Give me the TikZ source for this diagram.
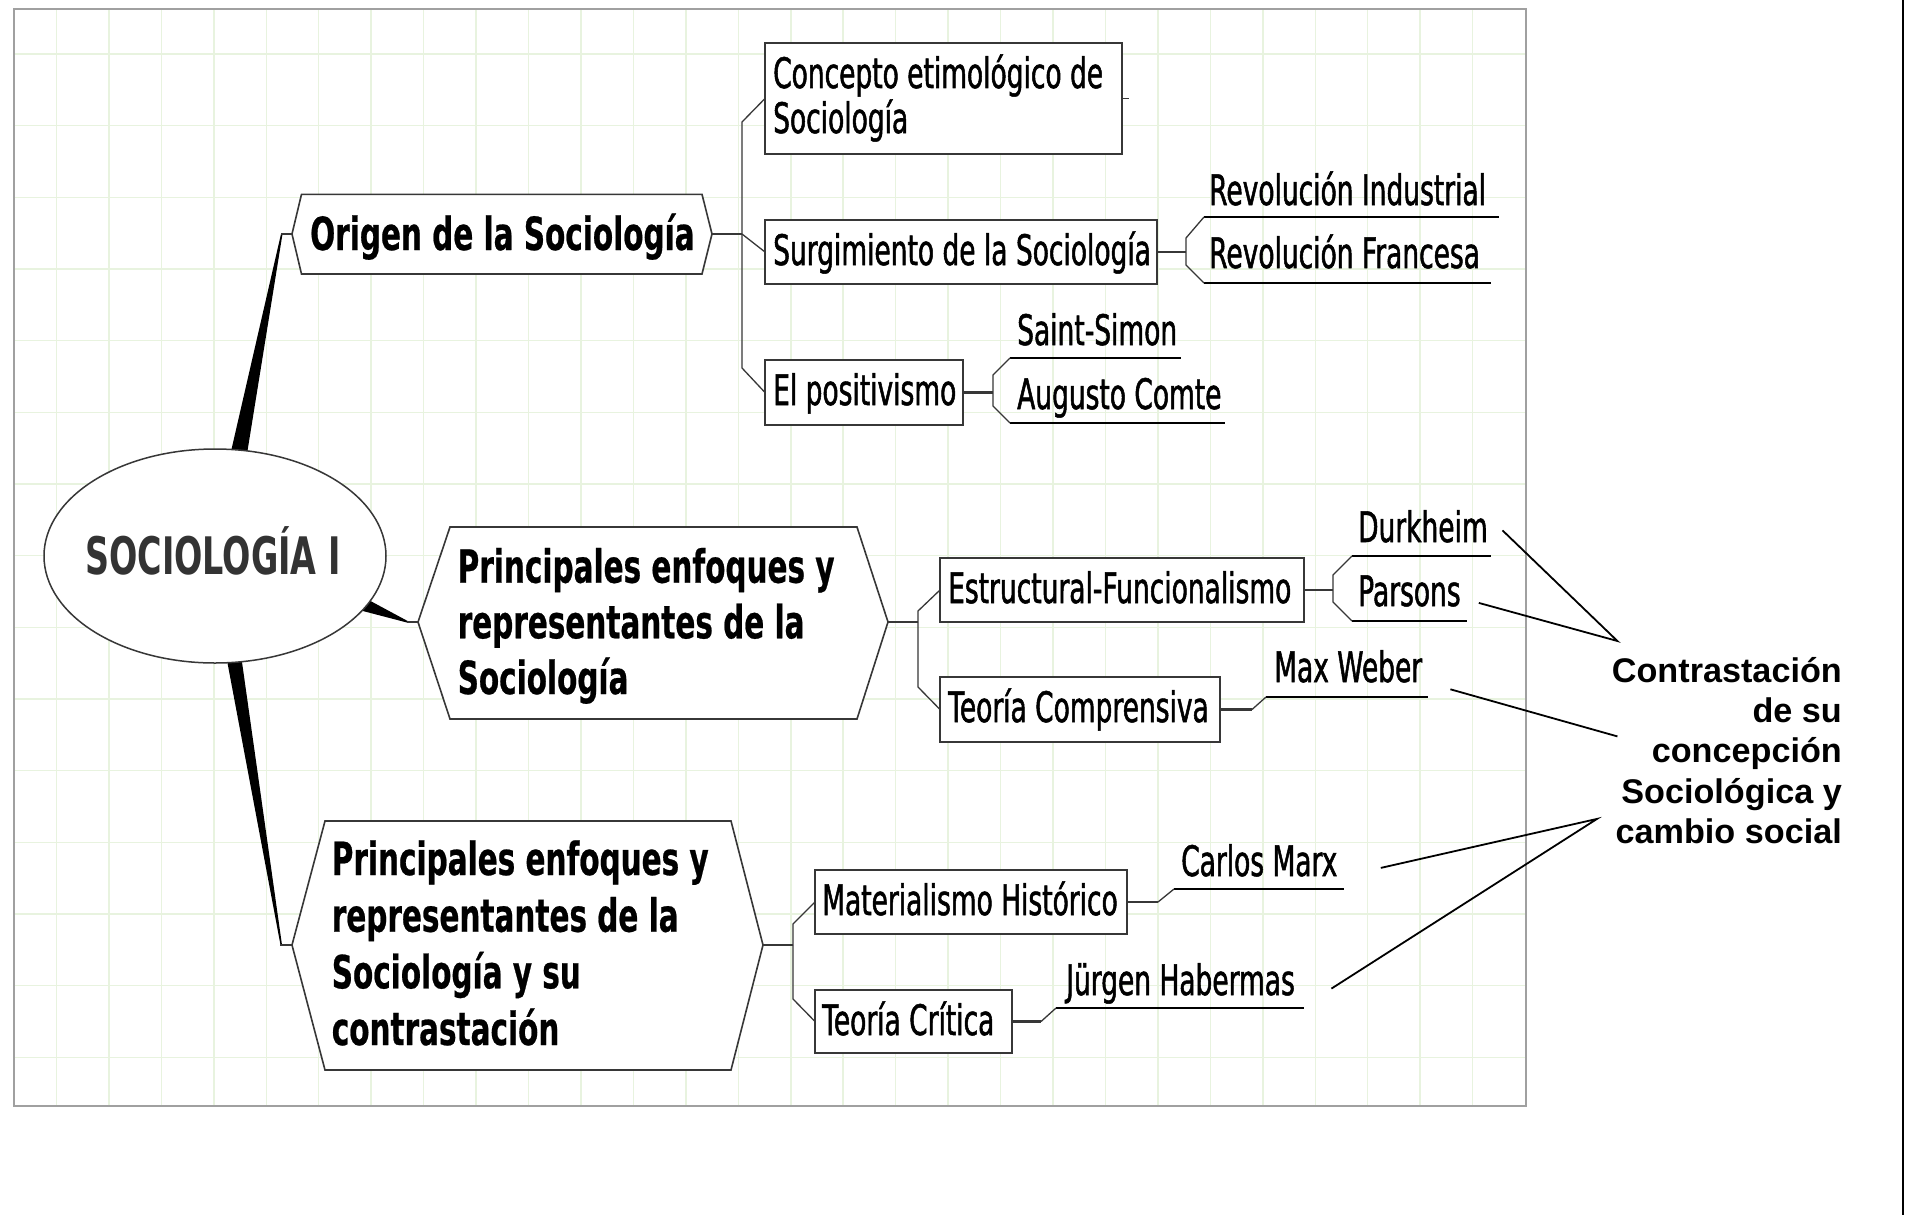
\documentclass[tikz,border=0pt]{standalone}
\usepackage{fontspec}
\usetikzlibrary{shapes.geometric}
\newfontfamily\mmreg[FakeStretch=0.63,FakeBold=1.2]{DejaVu Sans}
\newfontfamily\mmbold[FakeStretch=0.645,FakeBold=0.5]{DejaVu Sans Bold}
\newfontfamily\rootfont[FakeStretch=0.645]{DejaVu Sans Bold}
\newfontfamily\ctfont{Liberation Sans Bold}
\definecolor{gridc}{RGB}{232,243,223}
\definecolor{framec}{RGB}{160,160,160}
\definecolor{linec}{RGB}{55,55,55}
\definecolor{roottxt}{RGB}{51,51,51}
\tikzset{
  gridline/.style={draw=gridc, line width=1.5pt},
  box/.style={draw=linec, line width=1.8pt, fill=white, rectangle, inner sep=0pt, outer sep=0pt},
  regtxt/.style={anchor=base west, inner sep=0pt, font=\mmreg\fontsize{42}{45}\selectfont},
  boldtxt/.style={anchor=base west, inner sep=0pt, font=\mmbold\fontsize{45.7}{57}\selectfont},
  notetxt/.style={anchor=base east, inner sep=0pt, font=\ctfont\fontsize{34.2}{40}\selectfont},
  branch/.style={draw=linec, line width=1.3pt},
  stem/.style={draw=linec, line width=2.6pt},
  uline/.style={draw=black, line width=1.8pt},
  hexline/.style={draw=linec, line width=1.6pt, fill=white, line join=miter},
  wedge/.style={fill=black},
  note/.style={draw=black, line width=1.8pt},
}
\begin{document}
\begin{tikzpicture}[x=1pt,y=-1pt]
\useasboundingbox (0,0) rectangle (1910,1215);
\fill[white] (0,0) rectangle (1910,1215);
% grid
\foreach \k in {1,...,28} { \draw[gridline] ({4+52.45*\k},9) -- ({4+52.45*\k},1106); }
\foreach \k in {0,...,14} { \draw[gridline] (14,{54+71.67*\k}) -- (1526,{54+71.67*\k}); }
\draw[draw=framec, line width=1.6pt] (14,9) rectangle (1526,1106);
% right edge line
\draw[line width=2.4pt] (1903,0) -- (1903,1215);

% hexagon tips
\coordinate (h1W) at (292,234);  \coordinate (h1E) at (712,234);
\coordinate (h2W) at (418,622);  \coordinate (h2E) at (888,622);
\coordinate (h3W) at (292,945);  \coordinate (h3E) at (763,945);

% wedges from root
\fill[wedge] (229.5,458) -- (246.5,457) -- (282.5,234) -- (281,234) -- cycle;
\fill[wedge] (364,597.5) -- (359,610) -- (408,622.8) -- (408,621.2) -- cycle;
\fill[wedge] (226,655) -- (241,655) -- (282,945) -- (280.5,945) -- cycle;
\draw[branch] (281,234) -- (h1W);
\draw[branch] (407,622) -- (h2W);
\draw[branch] (280,945) -- (h3W);

% root
\node[draw=linec, line width=1.5pt, fill=white, ellipse, minimum width=342pt, minimum height=214pt, inner sep=0pt] (root) at (215,556) {};
\node[anchor=base west, inner sep=0pt, text=roottxt, font=\rootfont\fontsize{51.7}{60}\selectfont] (rootT) at (85,574) {SOCIOLOGÍA I};

% hexagons
\draw[hexline] (h1W) -- (301.5,194.3) -- (702,194.3) -- (h1E) -- (702,274) -- (301.5,274) -- cycle;
\draw[hexline] (h2W) -- (450,527) -- (857,527) -- (h2E) -- (857,719) -- (450,719) -- cycle;
\draw[hexline] (h3W) -- (325,821) -- (731,821) -- (h3E) -- (731,1070) -- (325,1070) -- cycle;
\node[boldtxt] (h1T) at (310,250) {Origen de la Sociología};
\node[boldtxt] (h2Ta) at (457.5,582.7) {Principales enfoques y};
\node[boldtxt] (h2Tb) at (457.5,638.3) {representantes de la};
\node[boldtxt] (h2Tc) at (457.5,694) {Sociología};
\node[boldtxt] (h3Ta) at (331.6,875) {Principales enfoques y};
\node[boldtxt] (h3Tb) at (331.6,931.7) {representantes de la};
\node[boldtxt] (h3Tc) at (331.6,988.3) {Sociología y su};
\node[boldtxt] (h3Td) at (331.6,1045) {contrastación};

% boxes
\node[box, minimum width=357pt, minimum height=111pt] (bConc) at (943.5,98.5) {};
\node[box, minimum width=392pt, minimum height=64pt] (bSurg) at (961,252) {};
\node[box, minimum width=198pt, minimum height=65pt] (bPos) at (864,392.5) {};
\node[box, minimum width=364pt, minimum height=64pt] (bEst) at (1122,590) {};
\node[box, minimum width=280pt, minimum height=65pt] (bComp) at (1080,709.5) {};
\node[box, minimum width=312pt, minimum height=64pt] (bMat) at (971,902) {};
\node[box, minimum width=197pt, minimum height=63pt] (bCrit) at (913.5,1021.5) {};
\node[regtxt] (tConcA) at (773,88) {Concepto etimológico de};
\node[regtxt] (tConcB) at (773,133) {Sociología};
\node[regtxt] (tSurg) at (773,265) {Surgimiento de la Sociología};
\node[regtxt] (tPos) at (773,405) {El positivismo};
\node[regtxt] (tEst) at (948,603) {Estructural-Funcionalismo};
\node[regtxt] (tComp) at (948,722) {Teoría Comprensiva};
\node[regtxt] (tMat) at (822,915) {Materialismo Histórico};
\node[regtxt] (tCrit) at (822,1035) {Teoría Crítica};

% leaves
\node[regtxt] (lRI) at (1209,205) {Revolución Industrial};
\node[regtxt] (lRF) at (1209,268) {Revolución Francesa};
\node[regtxt] (lSS) at (1017,345) {Saint-Simon};
\node[regtxt] (lAC) at (1017,409) {Augusto Comte};
\node[regtxt] (lDu) at (1358,542) {Durkheim};
\node[regtxt] (lPa) at (1358,606) {Parsons};
\node[regtxt] (lMW) at (1274,682) {Max Weber};
\node[regtxt] (lCM) at (1181,876) {Carlos Marx};
\node[regtxt] (lJH) at (1066,995) {Jürgen Habermas};
\coordinate (uRI) at (1204,217); \draw[uline] (uRI) -- (1499,217);
\coordinate (uRF) at (1204,283); \draw[uline] (uRF) -- (1491,283);
\coordinate (uSS) at (1010,358); \draw[uline] (uSS) -- (1181,358);
\coordinate (uAC) at (1010,423); \draw[uline] (uAC) -- (1225,423);
\coordinate (uDu) at (1352,556); \draw[uline] (uDu) -- (1491,556);
\coordinate (uPa) at (1352,621); \draw[uline] (uPa) -- (1467,621);
\coordinate (uMW) at (1266,697); \draw[uline] (uMW) -- (1428,697);
\coordinate (uCM) at (1174,889); \draw[uline] (uCM) -- (1344,889);
\coordinate (uJH) at (1056,1008); \draw[uline] (uJH) -- (1304,1008);

% branches from hex1
\coordinate (j1) at (742,234);
\draw[stem] (h1E) -- (j1);
\draw[branch] (j1) -- (742,122) -- (bConc.west);
\draw[branch] (j1) -- (bSurg.west);
\draw[branch] (j1) -- (742,368) -- (bPos.west);
\draw[branch] (bConc.east) -- ++(7,0);
% branches from hex2
\coordinate (j2) at (918,622);
\draw[stem] (h2E) -- (j2);
\draw[branch] (j2) -- (918,611) -- (bEst.west);
\draw[branch] (j2) -- (918,687) -- (bComp.west);
% branches from hex3
\coordinate (j3) at (793,945);
\draw[stem] (h3E) -- (j3);
\draw[branch] (j3) -- (793,924) -- (bMat.west);
\draw[branch] (j3) -- (793,999) -- (bCrit.west);
% leaves brackets
\coordinate (jS) at (1186,252);
\draw[stem] (bSurg.east) -- (jS);
\draw[branch] (uRI) -- (1186,238) -- (1186,265) -- (uRF);
\coordinate (jP) at (993,392.5);
\draw[stem] (bPos.east) -- (jP);
\draw[branch] (uSS) -- (993,375) -- (993,406) -- (uAC);
\coordinate (jE) at (1333,590);
\draw[stem] (bEst.east) -- (jE);
\draw[branch] (uDu) -- (1333,575) -- (1333,602) -- (uPa);
\coordinate (jC) at (1252,709.5);
\draw[stem] (bComp.east) -- (jC);
\draw[branch] (jC) -- (uMW);
\coordinate (jM) at (1158,902);
\draw[stem] (bMat.east) -- (jM);
\draw[branch] (jM) -- (uCM);
\coordinate (jT) at (1041,1021.5);
\draw[stem] (bCrit.east) -- (jT);
\draw[branch] (jT) -- (uJH);

% note text
\node[notetxt] (ct1) at (1842,682) {Contrastación};
\node[notetxt] (ct2) at (1842,722) {de su};
\node[notetxt] (ct3) at (1842,762) {concepción};
\node[notetxt] (ct4) at (1842,803) {Sociológica y};
\node[notetxt] (ct5) at (1842,843) {cambio social};
\coordinate (nA) at (1617.4,641);
\coordinate (nB) at (1617.4,736.4);
\coordinate (nC) at (1597,818.9);
\coordinate (sDu) at (1502.5,530.4);
\coordinate (sPa) at (1478.8,602.9);
\coordinate (sMW) at (1450.4,689.3);
\coordinate (sCM) at (1380.8,867.9);
\coordinate (sJH) at (1331.4,988.6);
\draw[note] (sDu) -- (nA) -- (sPa);
\draw[note] (sMW) -- (nB);
\draw[note] (sCM) -- (nC) -- (sJH);
\end{tikzpicture}
\end{document}
